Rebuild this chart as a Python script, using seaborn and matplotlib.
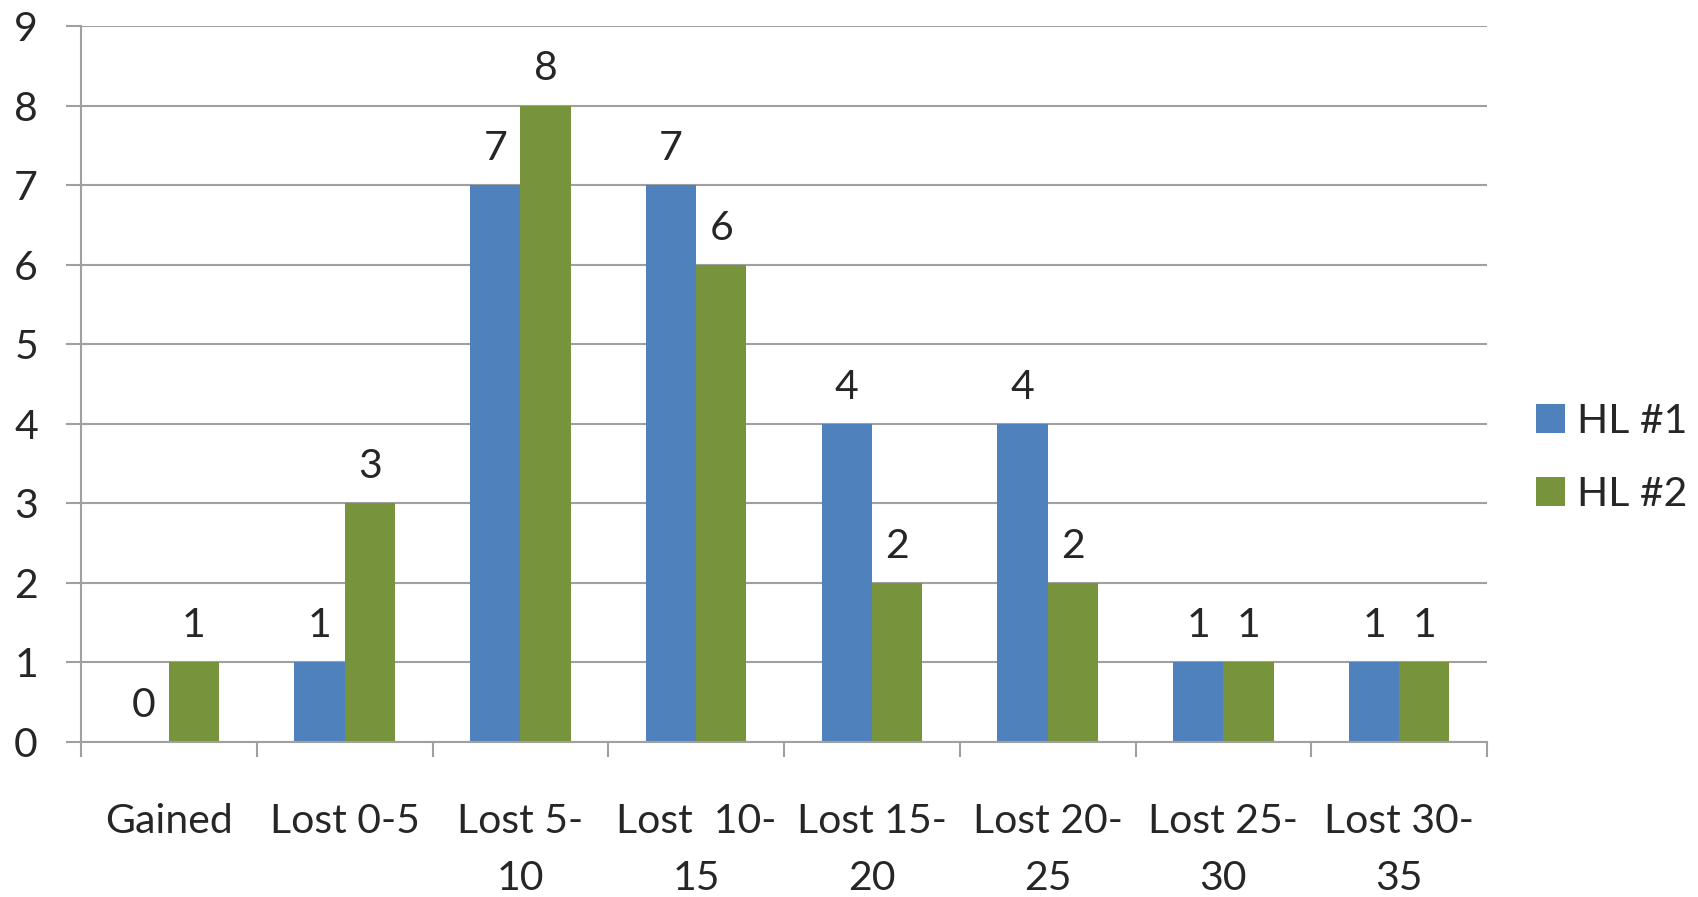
import pandas as pd
import seaborn as sns
import matplotlib.pyplot as plt
from matplotlib.ticker import FixedLocator

# chart data
categories = ["Gained", "Lost 0-5", "Lost 5-\n10", "Lost  10-\n15", "Lost 15-\n20",
              "Lost 20-\n25", "Lost 25-\n30", "Lost 30-\n35"]
hl1 = [0, 1, 7, 7, 4, 4, 1, 1]
hl2 = [1, 3, 8, 6, 2, 2, 1, 1]
series_names = ["HL #1", "HL #2"]
colors = ["#4F81BD", "#77933C"]

df = pd.DataFrame({
    "category": categories * 2,
    "count": hl1 + hl2,
    "series": [series_names[0]] * len(categories) + [series_names[1]] * len(categories),
})

sns.set_style("white")
plt.rcParams["font.family"] = ["Lato", "DejaVu Sans"]
FS = 29.5
GRID = "#A0A0A0"

fig = plt.figure(figsize=(16.98, 8.97), dpi=100)
ax = fig.add_axes([81 / 1698, 1 - 742 / 897, (1487 - 81) / 1698, (742 - 26) / 897])

sns.barplot(data=df, x="category", y="count", hue="series", order=categories,
            hue_order=series_names, palette=colors, width=4 / 7, errorbar=None,
            saturation=1, linewidth=0, ax=ax)

for cont in ax.containers:
    ax.bar_label(cont, fmt="%d", fontsize=FS, padding=13)

ax.set_xlim(-0.5, len(categories) - 0.5)
ax.set_ylim(0, 9)
ax.set_yticks(range(10))
ax.yaxis.grid(True, color=GRID, linewidth=1.5)
ax.set_axisbelow(True)
ax.set_xlabel("")
ax.set_ylabel("")

for s in ["top", "right"]:
    ax.spines[s].set_visible(False)
for s in ["left", "bottom"]:
    ax.spines[s].set_color(GRID)
    ax.spines[s].set_linewidth(1.5)

ax.tick_params(axis="y", labelsize=FS, length=11, width=1.5, color=GRID, pad=20, left=True)
ax.tick_params(axis="x", which="major", labelsize=FS, length=0, pad=44)
ax.xaxis.set_minor_locator(FixedLocator([i - 0.5 for i in range(len(categories) + 1)]))
ax.tick_params(axis="x", which="minor", length=11, width=1.5, color=GRID, bottom=True)
for lbl in ax.get_xticklabels():
    lbl.set_linespacing(1.65)

handles, labels = ax.get_legend_handles_labels()
ax.legend(handles, labels, loc="center left", bbox_to_anchor=(1536 / 1698, 1 - 458 / 897),
          bbox_transform=fig.transFigure, frameon=False, fontsize=FS,
          handlelength=0.7, handleheight=0.7, handletextpad=0.3, labelspacing=0.88,
          borderpad=0, borderaxespad=0)

fig.savefig("out.png", dpi=100)
